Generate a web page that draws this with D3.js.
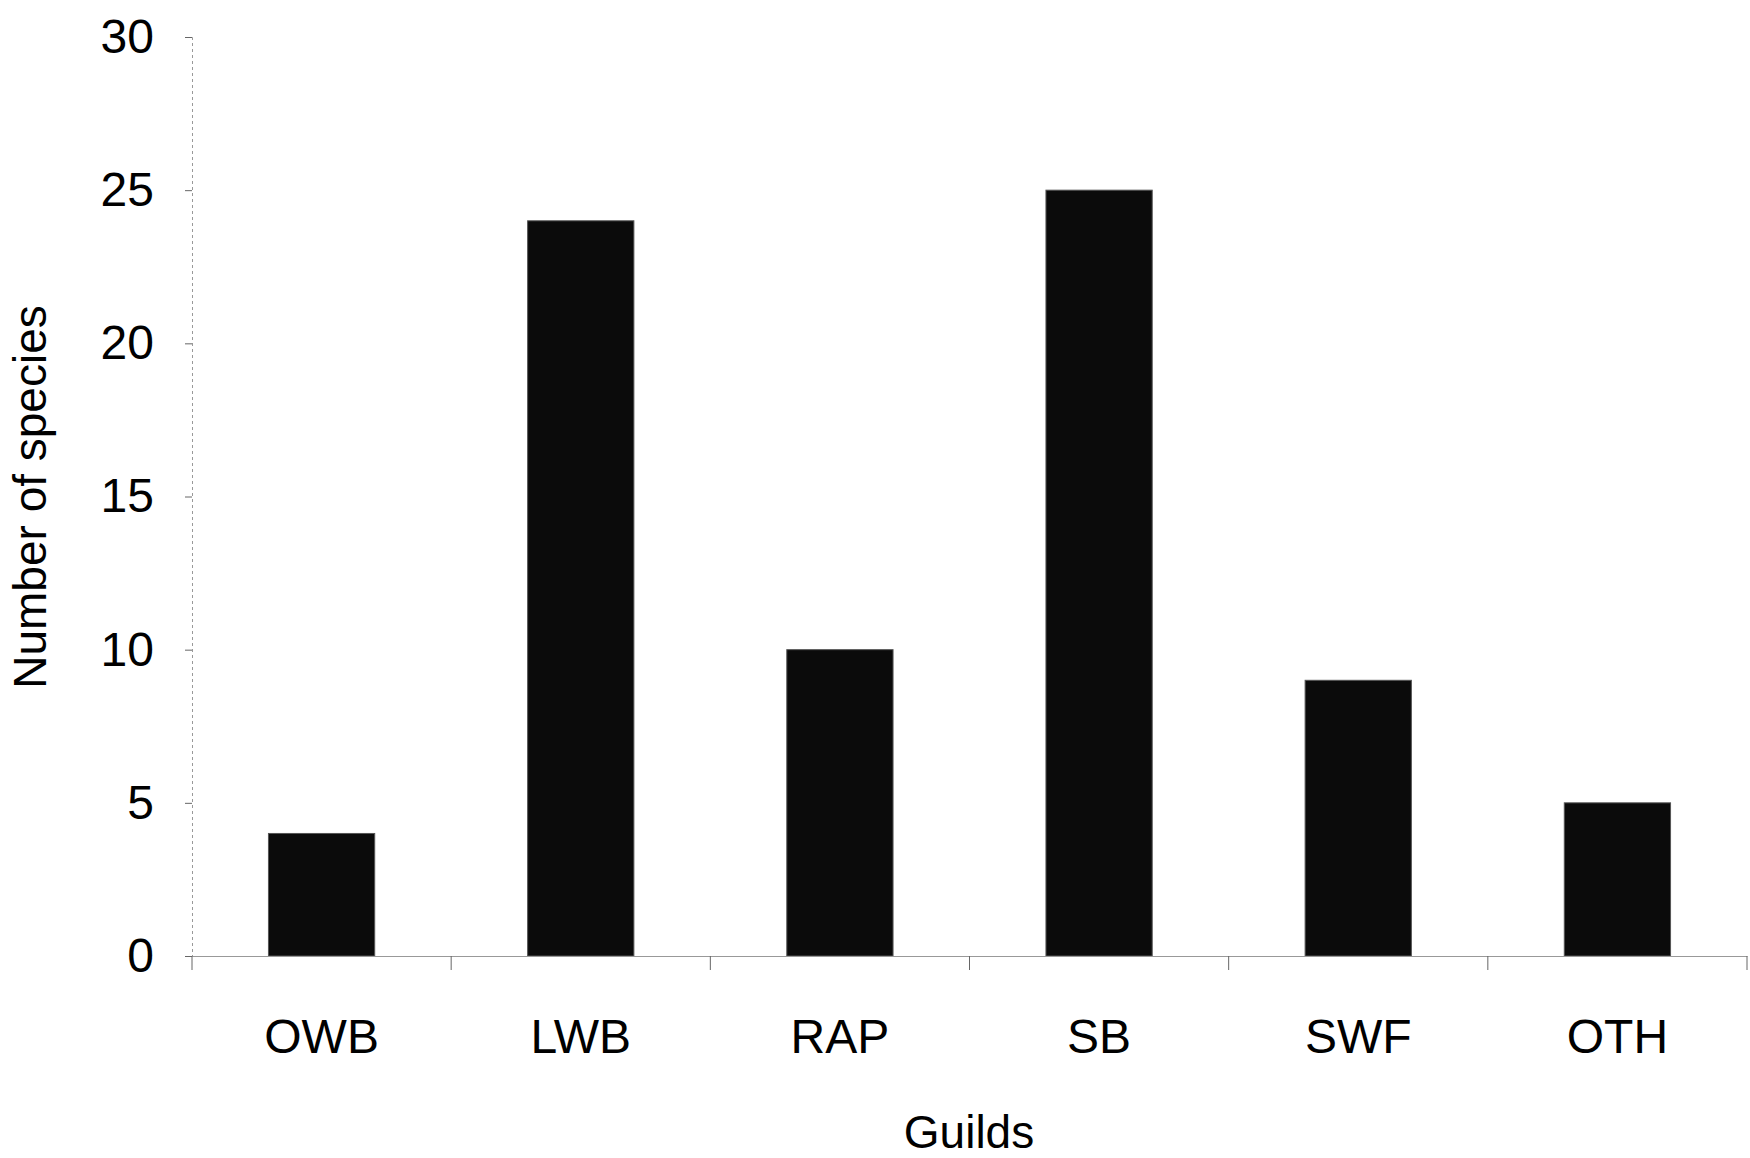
<!DOCTYPE html>
<html>
<head>
<meta charset="utf-8">
<script src="https://cdn.jsdelivr.net/npm/d3@7"></script>
<style>
  body { margin: 0; background: #fff; }
  text { font-family: "Liberation Sans", Arial, sans-serif; }
</style>
</head>
<body>
<script>
var guilds = ["OWB", "LWB", "RAP", "SB", "SWF", "OTH"];
var species = [4, 24, 10, 25, 9, 5];
var yTicks = [0, 5, 10, 15, 20, 25, 30];

var width = 1750;
var height = 1158;
var plotLeft = 192, plotRight = 1747, plotTop = 37, plotBottom = 956;

var svg = d3.select("body").append("svg")
  .attr("width", width)
  .attr("height", height);

var x = d3.scaleBand()
  .domain(guilds)
  .range([plotLeft, plotRight])
  .paddingInner(0.59)
  .paddingOuter(0.295);

var y = d3.scaleLinear()
  .domain([0, 30])
  .range([plotBottom, plotTop]);

// bars
svg.append("g")
  .selectAll("rect")
  .data(guilds)
  .enter().append("rect")
  .attr("x", function(d){ return x(d); })
  .attr("y", function(d, i){ return y(species[i]); })
  .attr("width", x.bandwidth())
  .attr("height", function(d, i){ return y(0) - y(species[i]); })
  .attr("fill", "#0b0b0b")
  .attr("stroke", "#555")
  .attr("stroke-width", 1);

// y axis
var yAxis = svg.append("g")
  .attr("transform", "translate(" + plotLeft + ",0)")
  .call(d3.axisLeft(y).tickValues(yTicks).tickSize(7).tickPadding(31));
yAxis.select(".domain").attr("stroke", "#999").attr("stroke-dasharray", "3,3");
yAxis.selectAll(".tick line").attr("stroke", "#666");
yAxis.selectAll("text").attr("font-size", 48).attr("fill", "#000")
  .style("font-family", "'Liberation Sans', Arial, sans-serif");

// x axis labels
var xAxis = svg.append("g")
  .attr("transform", "translate(0," + plotBottom + ")")
  .call(d3.axisBottom(x).tickSize(0).tickPadding(63).tickSizeOuter(0));
xAxis.select(".domain").attr("stroke", "#999");
xAxis.selectAll("text").attr("font-size", 48).attr("fill", "#000")
  .style("font-family", "'Liberation Sans', Arial, sans-serif");

// category boundary ticks
var edges = d3.range(guilds.length + 1).map(function(i){ return plotLeft + i * x.step(); });
svg.append("g")
  .selectAll("line")
  .data(edges)
  .enter().append("line")
  .attr("x1", function(d){ return d; })
  .attr("x2", function(d){ return d; })
  .attr("y1", plotBottom)
  .attr("y2", plotBottom + 14)
  .attr("stroke", "#666");

// axis titles
svg.append("text")
  .attr("x", 969)
  .attr("y", 1148)
  .attr("text-anchor", "middle")
  .attr("font-size", 46)
  .text("Guilds");

svg.append("text")
  .attr("transform", "translate(46,497) rotate(-90)")
  .attr("text-anchor", "middle")
  .attr("font-size", 46)
  .text("Number of species");
</script>
</body>
</html>
